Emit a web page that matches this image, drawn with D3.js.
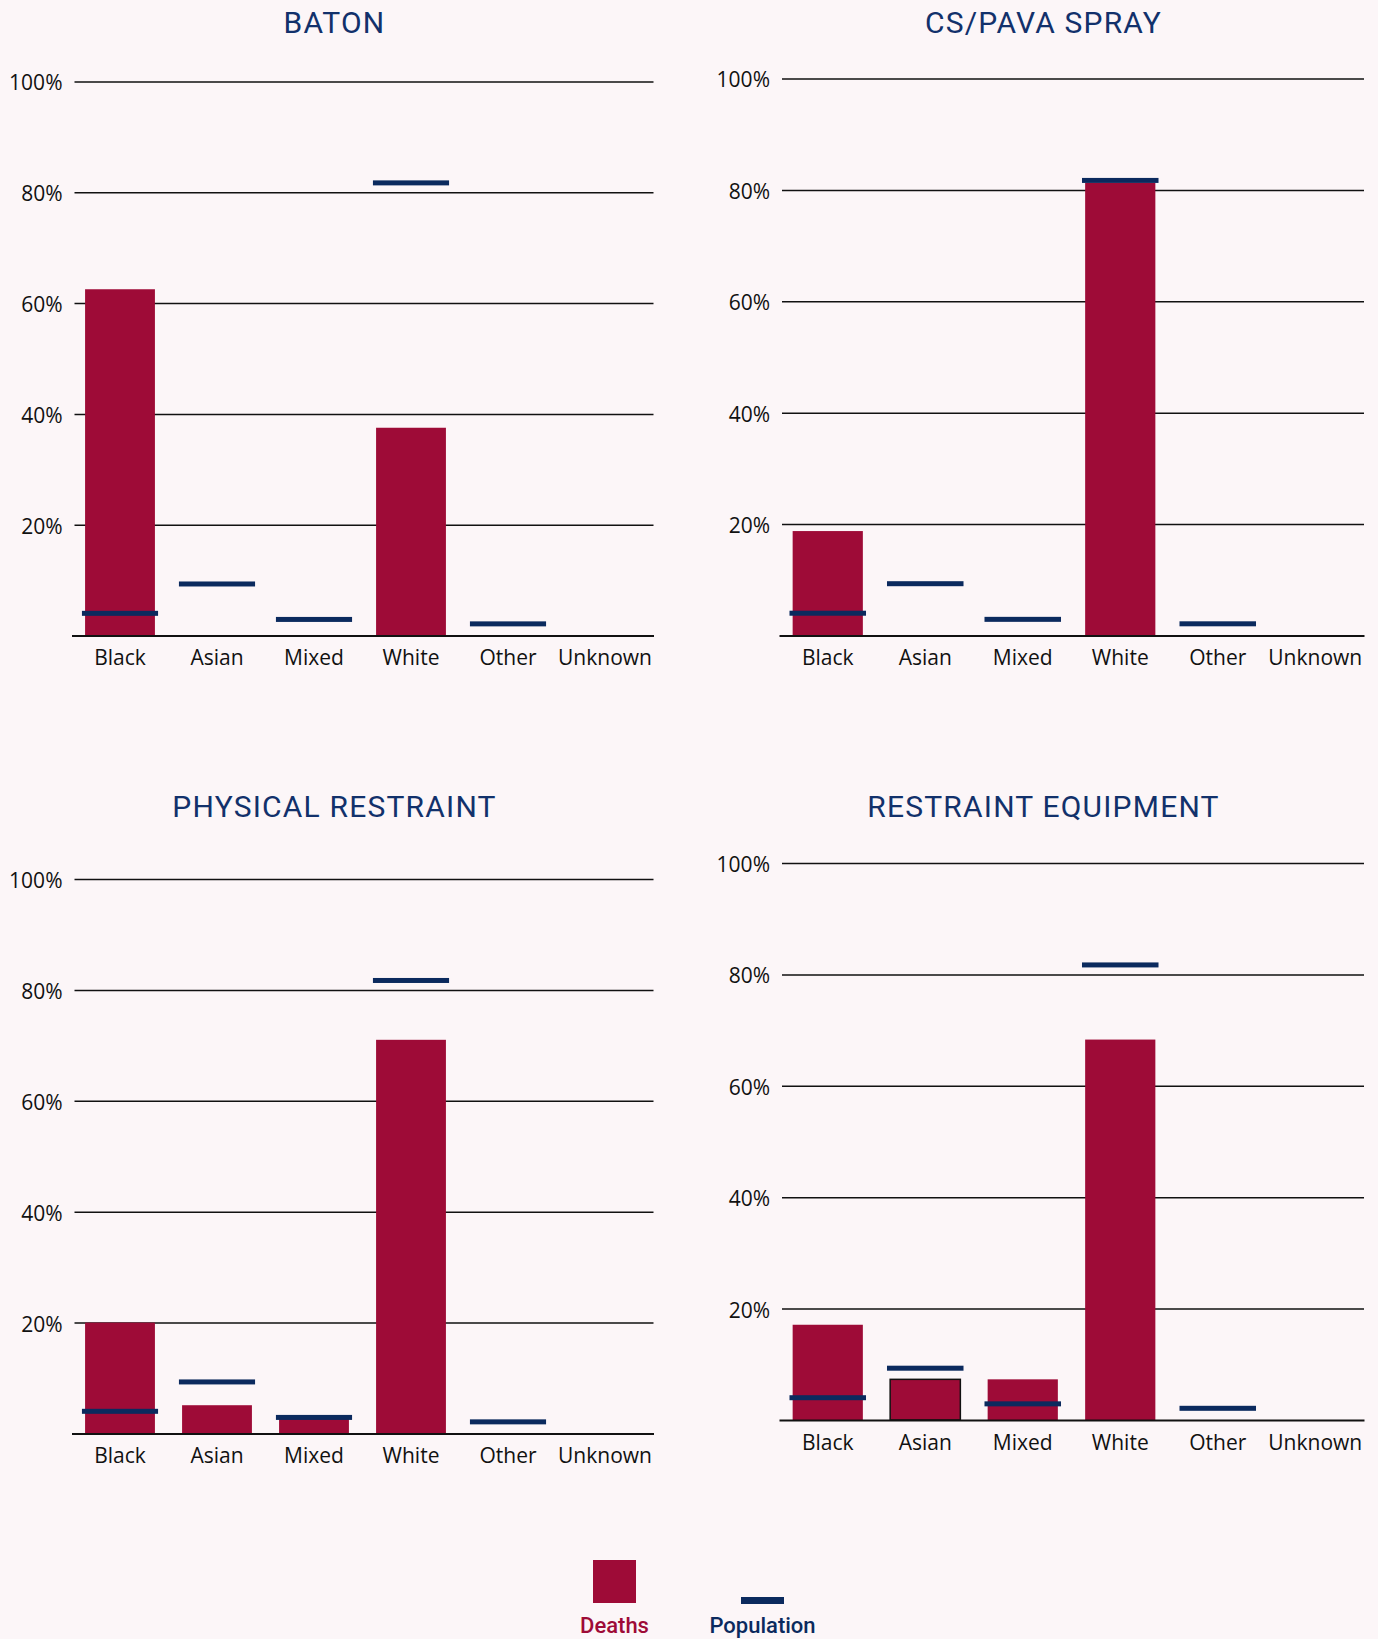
<!DOCTYPE html>
<html>
<head>
<meta charset="utf-8">
<script src="https://cdn.jsdelivr.net/npm/d3@7"></script>
<style>
  html, body { margin: 0; padding: 0; background: #fcf6f8; }
  svg { display: block; }
</style>
</head>
<body>
<div id="chart"></div>
<script>
// Ethnicity breakdown of deaths following each type of force, against population share (%)
const categories = ["Black", "Asian", "Mixed", "White", "Other", "Unknown"];
const population = [4.0, 9.3, 2.9, 81.7, 2.1, null];

const batonDeaths = [62.5, 0, 0, 37.5, 0, 0];
const sprayDeaths = [18.75, 0, 0, 81.25, 0, 0];
const physicalRestraintDeaths = [20, 5.1, 2.8, 71, 0, 0];
const restraintEquipmentDeaths = [17.1, 7.3, 7.3, 68.3, 0, 0];

const panelTitles = ["BATON", "CS/PAVA SPRAY", "PHYSICAL RESTRAINT", "RESTRAINT EQUIPMENT"];
const yTicks = [20, 40, 60, 80, 100];
const legendLabels = ["Deaths", "Population"];

const W = 1378, H = 1639;
const BG = "#fcf6f8";
const DEATH_COLOR = "#9e0b37";
const POP_COLOR = "#0b2a5e";
const TITLE_COLOR = "#12316b";
const INK = "#111111";

const svg = d3.select("#chart").append("svg")
  .attr("width", W).attr("height", H)
  .attr("viewBox", `0 0 ${W} ${H}`);

svg.append("rect").attr("width", W).attr("height", H).attr("fill", BG);

// Panel frames: horizontal range of the category axis, vertical range of 0–100%
const panels = [
  { title: panelTitles[0], deaths: batonDeaths,              x: [71.5, 653.5], y: [635.5, 81.5],  titleY: 33 },
  { title: panelTitles[1], deaths: sprayDeaths,              x: [779, 1364],   y: [635.5, 78.5],  titleY: 33 },
  { title: panelTitles[2], deaths: physicalRestraintDeaths,  x: [71.5, 653.5], y: [1433.5, 879],  titleY: 817 },
  { title: panelTitles[3], deaths: restraintEquipmentDeaths, x: [779, 1364],   y: [1420, 863],    titleY: 817 }
];

// One bar in the restraint-equipment panel carries a thin outline
const outlined = { panel: 3, category: "Asian" };

panels.forEach((p, pi) => {
  const xs = d3.scaleBand().domain(categories).range(p.x)
    .paddingInner(0.28).paddingOuter(0.14);
  const ys = d3.scaleLinear().domain([0, 100]).range(p.y);
  const bw = xs.bandwidth();
  const mw = bw * 1.09;

  const g = svg.append("g");

  // Title
  g.append("text")
    .attr("x", (p.x[0] + p.x[1]) / 2 - 28)
    .attr("y", p.titleY)
    .attr("text-anchor", "middle")
    .attr("font-family", "Roboto, 'Noto Sans', sans-serif")
    .attr("font-size", 30)
    .attr("letter-spacing", 1.2)
    .attr("fill", TITLE_COLOR)
    .text(p.title);

  // Gridlines and percentage labels
  const yAxis = d3.axisLeft(ys)
    .tickValues(yTicks)
    .tickSize(-(p.x[1] - p.x[0] - 3))
    .tickPadding(12)
    .tickFormat(d => d + "%");
  const ya = g.append("g")
    .attr("transform", `translate(${p.x[0] + 3},0)`)
    .call(yAxis);
  ya.select(".domain").remove();
  ya.selectAll(".tick line").attr("stroke", INK).attr("stroke-width", 1.5);
  ya.selectAll(".tick text")
    .attr("dy", "0.4em")
    .attr("font-family", "'Open Sans', 'Noto Sans', sans-serif")
    .attr("font-size", 21)
    .attr("fill", INK);

  // Deaths bars
  g.append("g").selectAll("rect")
    .data(categories.map((c, i) => ({ c, v: p.deaths[i] })).filter(d => d.v > 0))
    .join("rect")
    .attr("x", d => xs(d.c))
    .attr("width", bw)
    .attr("y", d => ys(d.v))
    .attr("height", d => ys(0) - ys(d.v))
    .attr("fill", DEATH_COLOR)
    .attr("stroke", d => (pi === outlined.panel && d.c === outlined.category) ? INK : "none")
    .attr("stroke-width", 1.5);

  // Baseline and category labels
  const xa = g.append("g")
    .attr("transform", `translate(0,${ys(0)})`)
    .call(d3.axisBottom(xs).tickSize(0));
  xa.select(".domain").attr("stroke", INK).attr("stroke-width", 2);
  xa.selectAll(".tick text")
    .attr("y", 29.5)
    .attr("dy", 0)
    .attr("font-family", "'Open Sans', 'Noto Sans', sans-serif")
    .attr("font-size", 21)
    .attr("fill", INK);

  // Population markers
  g.append("g").selectAll("rect")
    .data(categories.map((c, i) => ({ c, v: population[i] })).filter(d => d.v != null))
    .join("rect")
    .attr("x", d => xs(d.c) + bw / 2 - mw / 2)
    .attr("width", mw)
    .attr("y", d => ys(d.v) - 2.5)
    .attr("height", 5)
    .attr("fill", POP_COLOR);
});

// Legend
const legend = svg.append("g");
legend.append("rect")
  .attr("x", 593).attr("y", 1560).attr("width", 43).attr("height", 43)
  .attr("fill", DEATH_COLOR);
legend.append("rect")
  .attr("x", 741).attr("y", 1597).attr("width", 43).attr("height", 7)
  .attr("fill", POP_COLOR);
legend.selectAll("text")
  .data(legendLabels)
  .join("text")
  .attr("x", (d, i) => i === 0 ? 614.5 : 762.5)
  .attr("y", 1633)
  .attr("text-anchor", "middle")
  .attr("font-family", "Roboto, 'Noto Sans', sans-serif")
  .attr("font-weight", 500)
  .attr("font-size", 22)
  .attr("fill", (d, i) => i === 0 ? DEATH_COLOR : POP_COLOR)
  .text(d => d);
</script>
</body>
</html>
